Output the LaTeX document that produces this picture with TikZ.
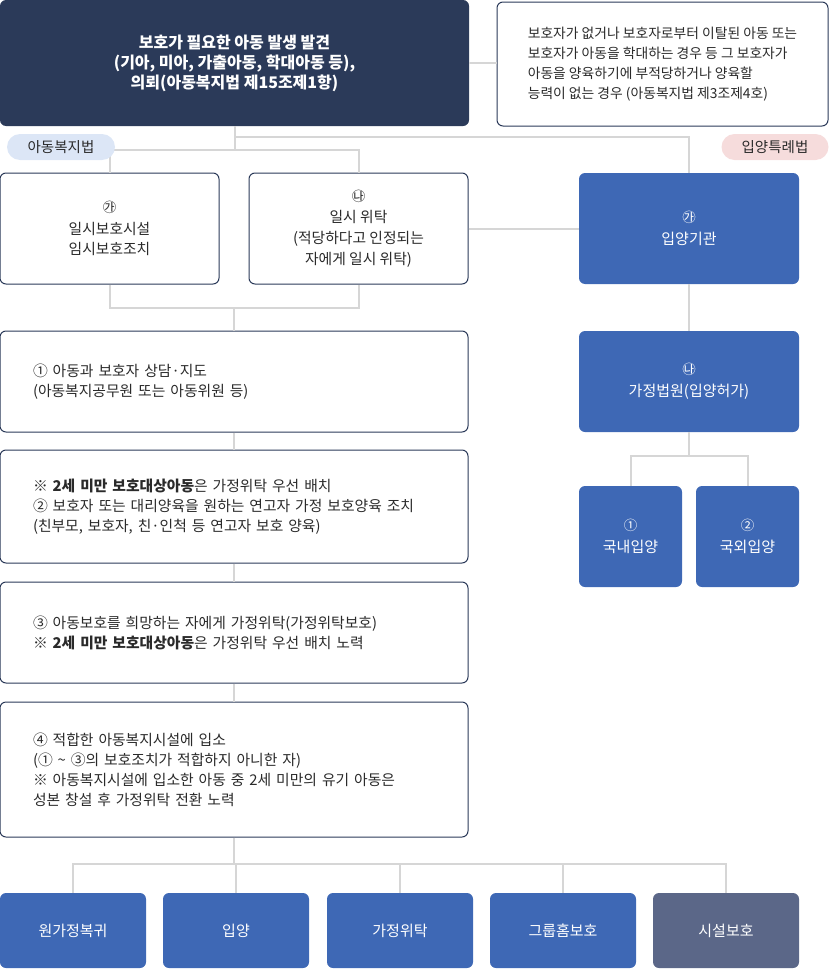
\documentclass[tikz,border=0pt]{standalone}
\usepackage{fontspec}
\setmainfont{Noto Sans CJK KR}
\definecolor{navy}{HTML}{2B3A59}
\definecolor{blue}{HTML}{3E68B5}
\definecolor{slate}{HTML}{5B6788}
\definecolor{txt}{HTML}{2A2A2A}
\definecolor{lineclr}{HTML}{D6D6D6}
\definecolor{pillblue}{HTML}{DCE6F6}
\definecolor{pillpink}{HTML}{F6DCDC}
\newcommand\lbl[1]{{\fontsize{13.5}{15}\selectfont #1}}
\tikzset{
  box/.style={draw=navy, line width=1pt, fill=white, rounded corners=6pt, text=txt, align=center, font=\fontsize{14.8}{20}\selectfont},
  wide/.style={box, minimum width=468pt, text width=402pt, align=left},
  bluebox/.style={fill=blue, rounded corners=6pt, text=white, align=center, font=\fontsize{15}{20}\selectfont},
  outbox/.style={rounded corners=6pt, text=white, minimum width=146pt, minimum height=75pt, font=\fontsize{15}{20}\selectfont},
  pill/.style={rounded corners=13pt, minimum height=26pt, text=txt, font=\fontsize{14.5}{16}\selectfont},
  link/.style={draw=lineclr, line width=2pt}
}
\begin{document}
\begin{tikzpicture}[x=1pt, y=-1pt]
\useasboundingbox (0,0) rectangle (829,969);
% top row
\node[fill=navy, rounded corners=6pt, minimum width=469pt, minimum height=126pt, text=white, align=center, font=\fontsize{16}{20}\selectfont\bfseries] (top) at (234.5,63)
  {보호가 필요한 아동 발생 발견\\(기아, 미아, 가출아동, 학대아동 등),\\의뢰(아동복지법 제15조제1항)};
\node[box, minimum width=331pt, minimum height=124pt, align=left, font=\fontsize{13.8}{20}\selectfont] (info) at (662.5,64)
  {보호자가 없거나 보호자로부터 이탈된 아동 또는\\보호자가 아동을 학대하는 경우 등 그 보호자가\\아동을 양육하기에 부적당하거나 양육할\\능력이 없는 경우 (아동복지법 제3조제4호)};
% temporary care
\node[box, minimum width=219pt, minimum height=111pt] (ga) at (109.5,228.5) {\lbl{㉮}\\[2pt]일시보호시설\\임시보호조치};
\node[box, minimum width=219pt, minimum height=111pt, font=\fontsize{14.8}{21}\selectfont] (na) at (358.5,228.5) {\lbl{㉯}\\일시 위탁\\(적당하다고 인정되는\\자에게 일시 위탁)};
% steps
\node[wide, minimum height=101pt] (step1) at (234,381.5) {① 아동과 보호자 상담·지도\\(아동복지공무원 또는 아동위원 등)};
\node[wide, minimum height=113pt] (step2) at (234,506.5) {{\bfseries ※ 2세 미만 보호대상아동}은 가정위탁 우선 배치\\② 보호자 또는 대리양육을 원하는 연고자 가정 보호양육 조치\\(친부모, 보호자, 친·인척 등 연고자 보호 양육)};
\node[wide, minimum height=101pt] (step3) at (234,632.5) {③ 아동보호를 희망하는 자에게 가정위탁(가정위탁보호)\\{\bfseries ※ 2세 미만 보호대상아동}은 가정위탁 우선 배치 노력};
\node[wide, minimum height=135pt] (step4) at (234,769.5) {④ 적합한 아동복지시설에 입소\\(① \~{} ③의 보호조치가 적합하지 아니한 자)\\※ 아동복지시설에 입소한 아동 중 2세 미만의 유기 아동은\\성본 창설 후 가정위탁 전환 노력};
% adoption
\node[bluebox, minimum width=220pt, minimum height=111pt] (agency) at (689,228.5) {\lbl{㉮}\\[2pt]입양기관};
\node[bluebox, minimum width=220pt, minimum height=101pt] (court) at (689,381.5) {\lbl{㉯}\\[2pt]가정법원(입양허가)};
\node[bluebox, minimum width=103pt, minimum height=101pt] (dom) at (630.5,536.5) {\lbl{①}\\[2pt]국내입양};
\node[bluebox, minimum width=103pt, minimum height=101pt] (intl) at (747.5,536.5) {\lbl{②}\\[2pt]국외입양};
% outcomes
\foreach \n/\x/\t/\c in {home/73/원가정복귀/blue, adopt/236/입양/blue, foster/400/가정위탁/blue, group/563/그룹홈보호/blue, inst/726/시설보호/slate}
  \node[outbox, fill=\c] (\n) at (\x,930.5) {\t};
% connectors
\draw[link] (top.east) -- (top.east -| info.west);
\path (top.south) ++(0,11) coordinate (adoptsplit) ++(0,13) coordinate (split);
\draw[link] (top.south) -- (split);
\draw[link] (adoptsplit) -| (agency.north);
\draw[link] (ga.north) |- (split) -| (na.north);
\draw[link] (na.east) -- (agency.west);
\path (step1.north) ++(0,-23) coordinate (merge);
\draw[link] (ga.south) |- (merge) -| (na.south);
\draw[link] (merge) -- (step1.north);
\foreach \a/\b in {step1/step2, step2/step3, step3/step4}
  \draw[link] (\a) -- (\b);
\draw[link] (agency) -- (court);
\draw[link] (court.south) -- ++(0,24) coordinate (cs);
\draw[link] (dom.north) |- (cs) -| (intl.north);
\draw[link] (step4.south) -- ++(0,26) coordinate (fan);
\foreach \n in {home,adopt,foster,group,inst}
  \draw[link] (fan) -| (\n.north);
% law labels
\node[pill, fill=pillblue, minimum width=108pt] (welfarelaw) at (61,147) {아동복지법};
\node[pill, fill=pillpink, minimum width=107pt] (adoptlaw) at (775,147) {입양특례법};
\end{tikzpicture}
\end{document}
